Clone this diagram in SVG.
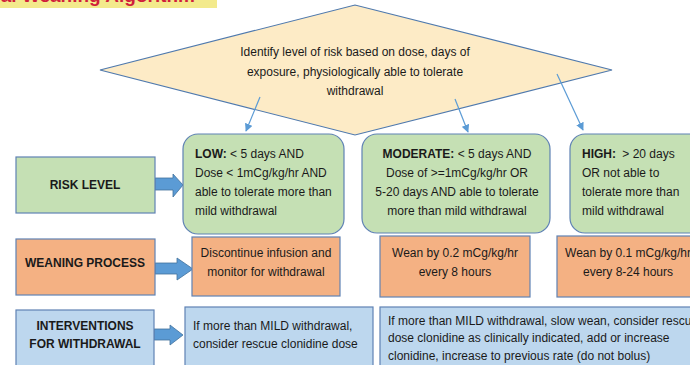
<svg xmlns="http://www.w3.org/2000/svg" width="690" height="365" viewBox="0 0 690 365">
<defs>
<style>
text{font-family:"Liberation Sans",Arial,sans-serif;font-size:12px;fill:#1a1a1a}
.b{font-weight:bold}
.c{text-anchor:middle}
.green{fill:#C5E0B4;stroke:#5F82B4;stroke-width:1.2}
.orange{fill:#F4B183;stroke:#5F82B4;stroke-width:1.2}
.blue{fill:#BDD7EE;stroke:#5F82B4;stroke-width:1.2}
.blk{fill:#5B9BD5;stroke:#41719C;stroke-width:0.8}
.ln{stroke:#5B9BD5;stroke-width:1.2;fill:none;marker-end:url(#ah)}
</style>
<marker id="ah" viewBox="0 0 10 10" refX="9" refY="5" markerWidth="8" markerHeight="8" markerUnits="userSpaceOnUse" orient="auto">
<path d="M0,0 L10,5 L0,10 z" fill="#5B9BD5"/>
</marker>
</defs>
<rect width="690" height="365" fill="#ffffff"/>
<g id="title">
<rect x="0" y="-2" width="217" height="10" fill="#F3EA8C"/>
<text x="195" y="1.5" style="font-size:19px;font-weight:bold;fill:#D01F3C;text-anchor:end">al Weaning Algorithm</text>
</g>
<g id="decision">
<polygon points="100,70 355,5 612,70 355,135" fill="#FDEBC6" stroke="#4F79AD" stroke-width="1.2"/>
<text class="c" x="355" y="56">Identify level of risk based on dose, days of</text>
<text class="c" x="355" y="76">exposure, physiologically able to tolerate</text>
<text class="c" x="355" y="95">withdrawal</text>
</g>
<g id="connectors">
<line class="ln" x1="260" y1="97" x2="246" y2="131"/>
<line class="ln" x1="455" y1="99" x2="468" y2="132"/>
<line class="ln" x1="557" y1="74" x2="583" y2="130"/>
<polygon class="blk" points="155,178 173,178 173,174 183,185 173,197 173,190 155,190"/>
<polygon class="blk" points="155,263 177,263 177,258 193,269 177,280 177,274 155,274"/>
<polygon class="blk" points="154,329 170,329 170,325 183,335 170,345 170,340 154,340"/>
</g>
<g id="risk-level">
<rect class="green" x="16" y="157" width="139" height="56"/>
<text class="b c" x="85" y="189">RISK LEVEL</text>
</g>
<g id="low">
<rect class="green" x="183" y="134" width="161" height="100" rx="15"/>
<text x="195" y="158"><tspan class="b">LOW:</tspan> &lt; 5 days AND</text>
<text x="195" y="177">Dose &lt; 1mCg/kg/hr AND</text>
<text x="195" y="196">able to tolerate more than</text>
<text x="195" y="215">mild withdrawal</text>
</g>
<g id="moderate">
<rect class="green" x="362" y="134" width="188" height="99" rx="15"/>
<text class="c" x="457" y="158"><tspan class="b">MODERATE:</tspan> &lt; 5 days AND</text>
<text class="c" x="457" y="177">Dose of &gt;=1mCg/kg/hr OR</text>
<text class="c" x="457" y="196">5-20 days AND able to tolerate</text>
<text class="c" x="457" y="215">more than mild withdrawal</text>
</g>
<g id="high">
<rect class="green" x="570" y="134" width="140" height="99" rx="15"/>
<text x="582" y="158"><tspan class="b">HIGH:</tspan><tspan dx="3"> &gt; 20 days</tspan></text>
<text x="582" y="177">OR not able to</text>
<text x="582" y="196">tolerate more than</text>
<text x="582" y="215">mild withdrawal</text>
</g>
<g id="weaning-process">
<rect class="orange" x="16" y="239" width="139" height="56"/>
<text class="b c" x="85" y="267">WEANING PROCESS</text>
</g>
<g id="wean-low">
<rect class="orange" x="192" y="237" width="148" height="59"/>
<text class="c" x="266" y="257">Discontinue infusion and</text>
<text class="c" x="266" y="276">monitor for withdrawal</text>
</g>
<g id="wean-moderate">
<rect class="orange" x="380" y="236" width="150" height="61"/>
<text class="c" x="455" y="257">Wean by 0.2 mCg/kg/hr</text>
<text class="c" x="455" y="276">every 8 hours</text>
</g>
<g id="wean-high">
<rect class="orange" x="557" y="236" width="150" height="61"/>
<text class="c" x="628" y="257">Wean by 0.1 mCg/kg/hr</text>
<text class="c" x="628" y="276">every 8-24 hours</text>
</g>
<g id="interventions">
<rect class="blue" x="16" y="310" width="138" height="70"/>
<text class="b c" x="85" y="330">INTERVENTIONS</text>
<text class="b c" x="85" y="348">FOR WITHDRAWAL</text>
</g>
<g id="intervention-low">
<rect class="blue" x="185" y="307" width="188" height="70"/>
<text x="193" y="330">If more than MILD withdrawal,</text>
<text x="193" y="348">consider rescue clonidine dose</text>
</g>
<g id="intervention-mod-high">
<rect class="blue" x="380" y="307" width="330" height="70"/>
<text x="388" y="325">If more than MILD withdrawal, slow wean, consider rescue</text>
<text x="388" y="342">dose clonidine as clinically indicated, add or increase</text>
<text x="388" y="360">clonidine, increase to previous rate (do not bolus)</text>
</g>
</svg>
